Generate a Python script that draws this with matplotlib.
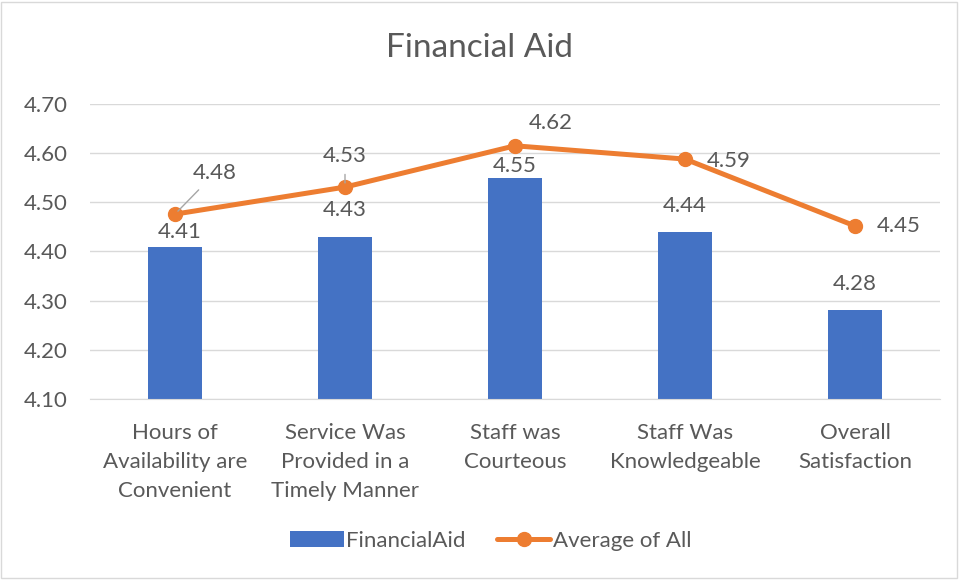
import matplotlib
matplotlib.use("Agg")
import matplotlib.pyplot as plt
from matplotlib.patches import Rectangle

categories = ["Hours of\nAvailability are\nConvenient",
              "Service Was\nProvided in a\nTimely Manner",
              "Staff was\nCourteous",
              "Staff Was\nKnowledgeable",
              "Overall\nSatisfaction"]
financial_aid = [4.41, 4.43, 4.55, 4.44, 4.28]
average_all = [4.476, 4.531, 4.615, 4.588, 4.452]
y_ticks = [4.10, 4.20, 4.30, 4.40, 4.50, 4.60, 4.70]

plt.rcParams['font.family'] = ['Lato', 'DejaVu Sans']
TXT = '#595959'
FS = 16

fig = plt.figure(figsize=(9.6, 5.8), dpi=100)
fig.patch.set_facecolor('white')
fig.add_artist(Rectangle((0.0015, 0.003), 0.995, 0.993, transform=fig.transFigure,
                         fill=False, edgecolor='#D9D9D9', linewidth=1))

ax = fig.add_axes([90/960, 1-399/580, 850/960, 295/580])
x = list(range(len(categories)))
bars = ax.bar(x, financial_aid, width=0.32, color='#4472C4', zorder=2, label='FinancialAid')
line, = ax.plot(x, average_all, color='#ED7D31', linewidth=3.6, marker='o',
                markersize=10, zorder=3, label='Average of All', solid_capstyle='round')

ax.set_xlim(-0.5, len(categories) - 0.5)
ax.set_ylim(y_ticks[0], y_ticks[-1])
ax.set_yticks(y_ticks)
ax.set_yticklabels([f"{v:.2f}" for v in y_ticks])
ax.set_xticks(x)
ax.set_xticklabels(categories, linespacing=1.55)
ax.tick_params(axis='both', length=0, labelsize=FS, colors=TXT)
ax.tick_params(axis='y', pad=16)
ax.tick_params(axis='x', pad=17.5)
ax.grid(axis='y', color='#D9D9D9', linewidth=1, zorder=0)
for s in ['top', 'right', 'left']:
    ax.spines[s].set_visible(False)
ax.spines['bottom'].set_color('#D9D9D9')
ax.set_axisbelow(True)

fig.text(0.5, 1-48/580, "Financial Aid", ha='center', va='center', fontsize=24, color=TXT)

# bar labels (pixel offsets above bar tops)
bar_off = [(5, 15), (0, 27), (0, 12), (0, 26), (0, 26)]
for xi, v, (dx, dy) in zip(x, financial_aid, bar_off):
    ax.annotate(f"{v:.2f}", (xi, v), xytext=(dx, dy), textcoords='offset pixels',
                ha='center', va='center', fontsize=FS, color=TXT, zorder=5)

# line labels
line_off = [(40, 41), (0, 31), (36, 23), (44, -2), (44, 0)]
leaders = [True, True, False, False, False]
for xi, v, (dx, dy), ld in zip(x, average_all, line_off, leaders):
    kw = {}
    if ld:
        kw['arrowprops'] = dict(arrowstyle='-', color='#A6A6A6', lw=1,
                                shrinkA=4, shrinkB=3)
    ax.annotate(f"{v:.2f}", (xi, v), xytext=(dx, dy), textcoords='offset pixels',
                ha='center', va='center', fontsize=FS, color=TXT, zorder=5, **kw)

leg = fig.legend(handles=[bars, line], loc='center', bbox_to_anchor=(0.5 + 11/960, 1-541/580),
                 ncol=2, frameon=False, fontsize=FS, handlelength=2.4,
                 handletextpad=0.12, columnspacing=1.4)
for t in leg.get_texts():
    t.set_color(TXT)

fig.savefig("out.png", dpi=100, facecolor='white')
